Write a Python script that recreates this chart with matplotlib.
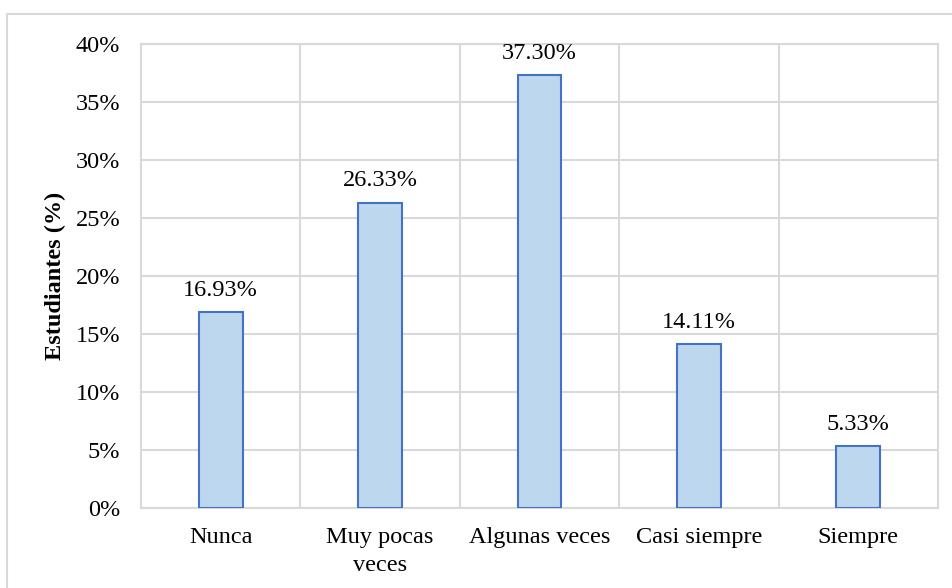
import matplotlib.pyplot as plt
from matplotlib.patches import Rectangle
from matplotlib.ticker import FuncFormatter

categorias = ["Nunca", "Muy pocas\nveces", "Algunas veces", "Casi siempre", "Siempre"]
porcentajes = [16.93, 26.33, 37.30, 14.11, 5.33]
etiquetas = ["16.93%", "26.33%", "37.30%", "14.11%", "5.33%"]
yticks = [0, 5, 10, 15, 20, 25, 30, 35, 40]

plt.rcParams["font.family"] = ["Liberation Serif", "DejaVu Serif"]
fs = 17.5

fig = plt.figure(figsize=(9.53, 5.88), dpi=100)

# outer frame of the chart
fig.patches.append(Rectangle((7 / 953, -0.01), 1.0, 1 - 14 / 588 + 0.01,
                             transform=fig.transFigure, facecolor="white",
                             edgecolor="#d9d9d9", linewidth=1.5, zorder=1))

ax = fig.add_axes([141 / 953, 1 - 508 / 588, (938 - 141) / 953, (508 - 44) / 588])
ax.set_zorder(2)
x = range(len(categorias))
bars = ax.bar(x, porcentajes, width=0.275, color="#bdd7ee", edgecolor="#4472c4",
              linewidth=1.5, zorder=3)
for b, t in zip(bars, etiquetas):
    ax.annotate(t, (b.get_x() + b.get_width() / 2, b.get_height()),
                xytext=(0, 8), textcoords="offset points", ha="center",
                va="bottom", fontsize=fs)

ax.set_xlim(-0.5, len(categorias) - 0.5)
ax.set_ylim(0, 40)
ax.set_yticks(yticks)
ax.yaxis.set_major_formatter(FuncFormatter(lambda v, p: f"{v:.0f}%"))
ax.set_xticks([i + 0.5 for i in range(len(categorias) - 1)], minor=True)
ax.set_xticks(list(x))
ax.set_xticklabels(categorias, fontsize=fs, linespacing=1.4)
ax.tick_params(axis="y", labelsize=fs, length=0, pad=15)
ax.tick_params(axis="x", which="both", length=0, pad=14)
ax.grid(axis="y", color="#d9d9d9", linewidth=1.5, zorder=0)
ax.grid(axis="x", which="minor", color="#d9d9d9", linewidth=1.5, zorder=0)
for s in ax.spines.values():
    s.set_color("#d9d9d9")
    s.set_linewidth(1.5)
ax.set_ylabel("Estudiantes (%)", fontsize=fs, fontweight="bold", labelpad=7)

fig.savefig("out.png", dpi=100)
